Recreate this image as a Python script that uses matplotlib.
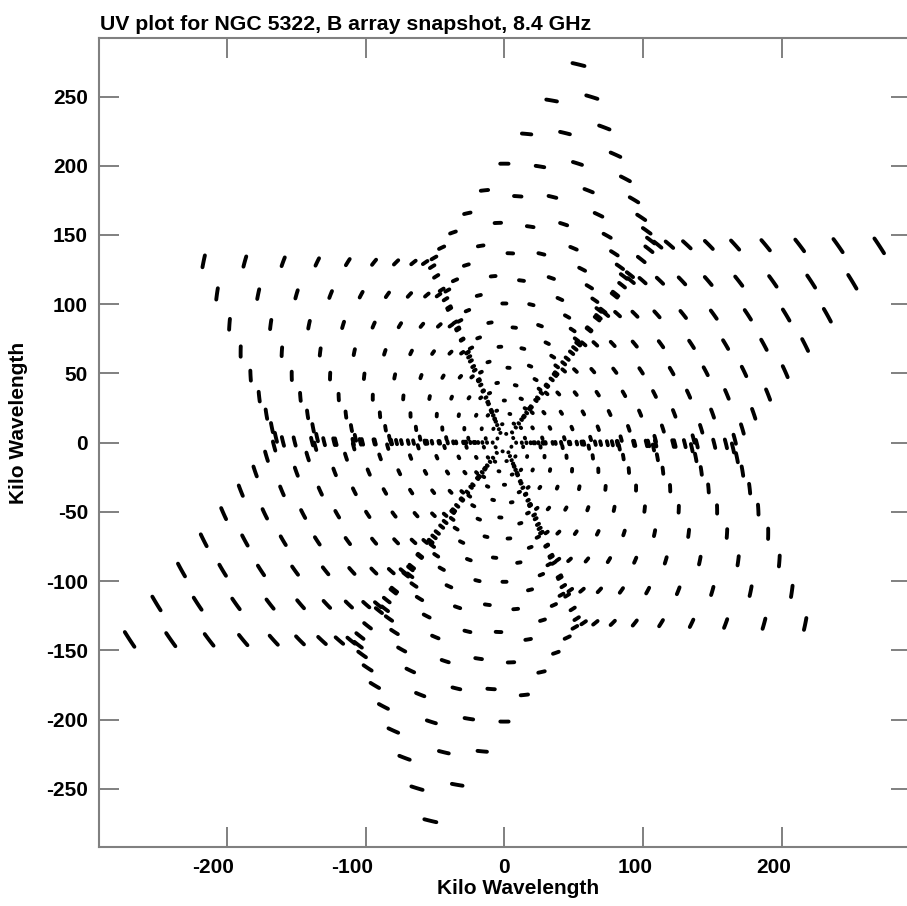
import numpy as np
import matplotlib.pyplot as plt
from matplotlib.collections import LineCollection
from matplotlib.transforms import ScaledTranslation

plt.rcParams['font.family'] = ['Liberation Sans', 'DejaVu Sans']
plt.rcParams['axes.unicode_minus'] = False

# VLA site, source and observing setup
lat_deg = 34.0784
dec_deg = 60.19          # NGC 5322
freq_ghz = 8.4
ha_start_deg = 25.7      # snapshot hour-angle span
ha_end_deg = 28.3
n_steps = 10

# arm azimuths (deg east of north) and B-array pad distances from the centre (km)
arm_az_deg = [355.0, 115.3, 236.0]
pads_n_km = [0.13, 0.44, 0.87, 1.43, 2.10, 2.87, 3.74, 4.71, 5.75]
pads_e_km = [0.15, 0.48, 0.97, 1.59, 2.33, 3.19, 4.15, 5.23, 6.39]
pads_w_km = [0.15, 0.48, 0.97, 1.59, 2.33, 3.19, 4.15, 5.23, 6.39]

x_ticks = [-200, -100, 0, 100, 200]
y_ticks = [-250, -200, -150, -100, -50, 0, 50, 100, 150, 200, 250]

# antenna positions in equatorial XYZ, in kilo-wavelengths
wavelength_m = 0.299792458 / freq_ghz
klam_per_km = 1.0 / wavelength_m
lat = np.radians(lat_deg)
ants = []
for az, pads in zip(arm_az_deg, [pads_n_km, pads_e_km, pads_w_km]):
    a = np.radians(az)
    for d in pads:
        east = d * np.sin(a) * klam_per_km
        north = d * np.cos(a) * klam_per_km
        ants.append((-north * np.sin(lat), east, north * np.cos(lat)))
ants = np.array(ants)

dec = np.radians(dec_deg)
ha = np.radians(np.linspace(ha_start_deg, ha_end_deg, n_steps))

tracks = []
for i in range(len(ants)):
    for j in range(i + 1, len(ants)):
        bx, by, bz = ants[j] - ants[i]
        u = bx * np.sin(ha) + by * np.cos(ha)
        v = (-np.sin(dec) * np.cos(ha) * bx + np.sin(dec) * np.sin(ha) * by
             + np.cos(dec) * bz)
        tracks.append(np.column_stack([u, v]))
        tracks.append(np.column_stack([-u, -v]))

fig = plt.figure(figsize=(9.07, 9.06), dpi=100)
ax = fig.add_axes([99 / 907, (906 - 847.3) / 906, 812.5 / 907, 809.6 / 906])

lc = LineCollection(tracks, colors='black', linewidths=2.8, capstyle='round')
ax.add_collection(lc)

ax.set_xlim(-292.5, 293.7)
ax.set_ylim(-292.3, 292.5)
ax.set_xticks(x_ticks)
ax.set_yticks(y_ticks)
for s in ax.spines.values():
    s.set_color('#808080')
    s.set_linewidth(1.5)
ax.spines['right'].set_visible(False)   # frame runs off the right edge
ax.tick_params(direction='in', length=14.5, width=1.4, color='#808080',
               top=True, right=True, labelsize=15, pad=8)
for lab in ax.get_xticklabels() + ax.get_yticklabels():
    lab.set_fontweight('bold')
# x labels sit a little left of their ticks
for lab, t in zip(ax.get_xticklabels(), x_ticks):
    if t != 0:
        shift = -14 if t < 0 else -8
        lab.set_transform(lab.get_transform()
                          + ScaledTranslation(shift / 100, 0, fig.dpi_scale_trans))

fig.text(100 / 907, 1 - 30 / 906, 'UV plot for NGC 5322, B array snapshot, 8.4 GHz',
         ha='left', va='baseline', fontsize=15.3, fontweight='bold')
fig.text(518 / 907, 1 - 888 / 906, 'Kilo Wavelength', ha='center', va='center',
         fontsize=15, fontweight='bold')
fig.text(19 / 907, 1 - 423 / 906, 'Kilo Wavelength', ha='center', va='center',
         rotation=90, fontsize=15, fontweight='bold')

fig.savefig('out.png', dpi=100)
